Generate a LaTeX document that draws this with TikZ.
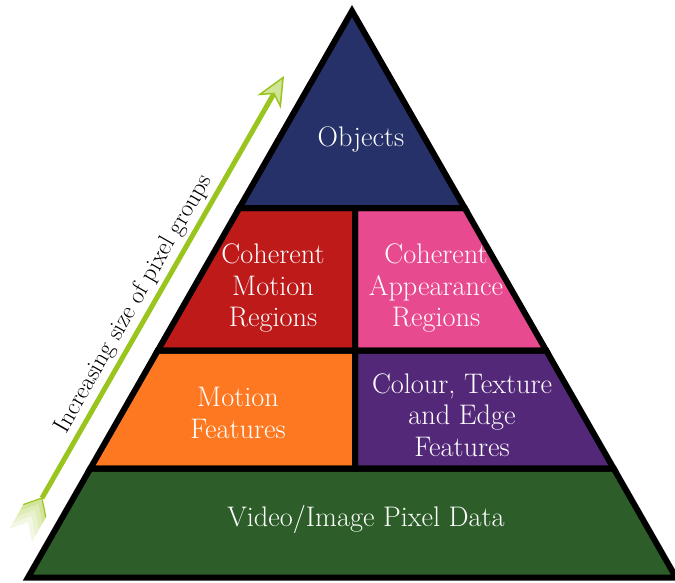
\documentclass[tikz,border=0pt]{standalone}
\usetikzlibrary{arrows.meta}
\definecolor{navyc}{RGB}{37,49,104}
\definecolor{redc}{RGB}{190,26,26}
\definecolor{pinkc}{RGB}{232,74,143}
\definecolor{orangec}{RGB}{253,120,32}
\definecolor{purplec}{RGB}{84,40,120}
\definecolor{greenc}{RGB}{45,94,42}
\definecolor{arrowc}{RGB}{154,196,30}
\tikzset{
  tier/.style={draw=black, line width=6pt, line join=miter},
  lbl/.style={text=white, align=center, font=\fontsize{28.3}{31.5}\selectfont, inner sep=0pt},
  sidelbl/.style={text=black, font=\fontsize{24.5}{29}\selectfont},
  growarrow/.style={draw=arrowc, line width=5pt,
    -{Stealth[length=30pt,width=27pt,inset=9pt,fill=arrowc!45,line width=1.5pt]}},
}
\begin{document}
\begin{tikzpicture}[x=1pt,y=-1pt]
\useasboundingbox (0,0) rectangle (675,583);
\clip (0,0) rectangle (675,583);
% key points
\coordinate (apex) at (352,11);
\coordinate (l1) at (239.3,208);   \coordinate (m1) at (355,208);   \coordinate (r1) at (464.7,208);
\coordinate (l2) at (157.8,350.5); \coordinate (m2) at (355,350.5); \coordinate (r2) at (546.2,350.5);
\coordinate (l3) at (90.3,468.5);  \coordinate (m3) at (355,468.5); \coordinate (r3) at (613.7,468.5);
\coordinate (l4) at (28.0,577.5);  \coordinate (r4) at (676.0,577.5);
% fills
\fill[navyc] (apex) -- (l1) -- (r1) -- cycle;
\fill[redc] (l1) -- (m1) -- (m2) -- (l2) -- cycle;
\fill[pinkc] (m1) -- (r1) -- (r2) -- (m2) -- cycle;
\fill[orangec] (l2) -- (m2) -- (m3) -- (l3) -- cycle;
\fill[purplec] (m2) -- (r2) -- (r3) -- (m3) -- cycle;
\fill[greenc] (l3) -- (r3) -- (r4) -- (l4) -- cycle;
% borders
\draw[tier] (apex) -- (l1) -- (r1) -- cycle;
\draw[tier] (l1) -- (m1) -- (m2) -- (l2) -- cycle;
\draw[tier] (m1) -- (r1) -- (r2) -- (m2) -- cycle;
\draw[tier] (l2) -- (m2) -- (m3) -- (l3) -- cycle;
\draw[tier] (m2) -- (r2) -- (r3) -- (m3) -- cycle;
\draw[tier] (l3) -- (r3) -- (r4) -- (l4) -- cycle;
% labels
\node[lbl] (objects) at (361,139) {Objects};
\node[lbl] (cmr) at (273,288) {Coherent\\Motion\\Regions};
\node[lbl] (car) at (436,288) {Coherent\\Appearance\\Regions};
\node[lbl] (mf) at (238,413) {Motion\\Features};
\node[lbl] (cte) at (462,415) {Colour, Texture\\and Edge\\Features};
\node[lbl] (video) at (366,519) {Video/Image Pixel Data};
% arrow
\coordinate (arrTail) at (42,498);
\coordinate (arrTip) at (284,76);
\begin{scope}[shift={(arrTail)}, rotate=60.2]
  \foreach \k/\c in {3/12,2/22,1/32,0/45}{
    \fill[arrowc!\c] ({-\k*7},0) -- ({-\k*7-15},13) -- ({-\k*7-22},13) -- ({-\k*7-7},0)
      -- ({-\k*7-22},-13) -- ({-\k*7-15},-13) -- cycle;
  }
  \draw[arrowc, line width=1.2pt] (-15,13) -- (0,0) -- (-15,-13);
\end{scope}
\draw[growarrow] (arrTail) -- (arrTip)
  node[pos=0.44, sloped, above=0pt, sidelbl] (sizelbl) {Increasing size of pixel groups};
\end{tikzpicture}
\end{document}
